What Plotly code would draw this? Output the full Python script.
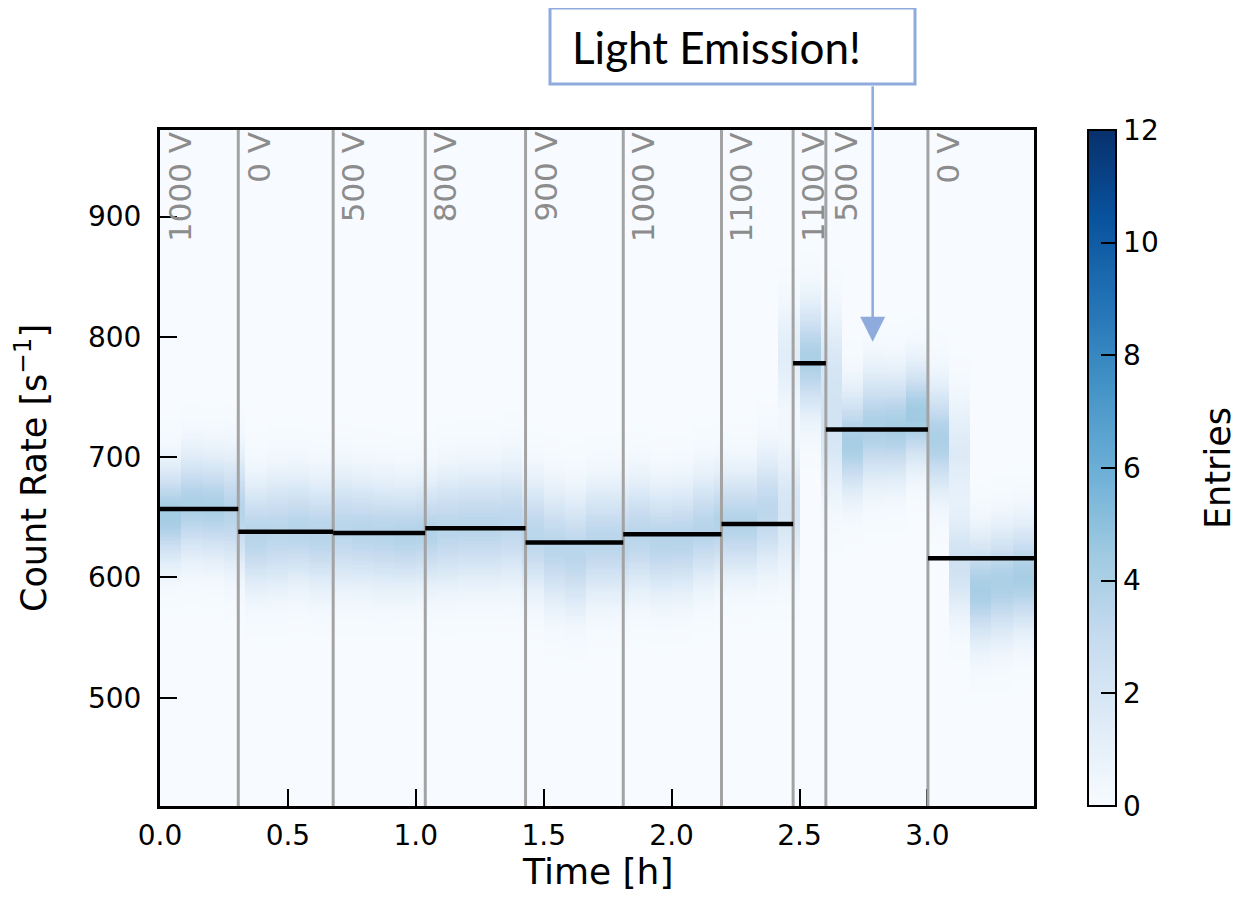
import numpy as np
import plotly.graph_objects as go

# ---------------- data ----------------
# 2D histogram: time bins of 5 min (1/12 h), count-rate bins of 2 s^-1
n_time_bins = 41
time_bin_h = 1.0 / 12.0
rate_min, rate_max, rate_bin = 410, 972, 2

# per time-bin main component: centre, width, entries
col_center = [652, 660, 658, 655, 635, 638, 640, 636, 640, 638, 636, 635, 637,
              640, 642, 642, 645, 635, 625, 620, 630, 630, 635, 630, 632, 640,
              645, 645, 655, 655, 782, 725, 712, 725, 725, 735, 715, 705, 590,
              595, 600]
col_sigma = [26, 28, 28, 30, 29, 30, 29, 29, 30, 29, 29, 28, 28,
             30, 30, 30, 31, 30, 31, 31, 30, 30, 30, 29, 29, 29,
             28, 28, 31, 33, 30, 38, 28, 30, 29, 27, 29, 30, 29,
             30, 29]
col_entries = [140, 140, 140, 135, 130, 130, 130, 130, 130, 130, 130, 130, 130,
               130, 130, 130, 130, 130, 135, 135, 130, 130, 130, 130, 130, 130,
               130, 130, 130, 130, 150, 140, 145, 150, 150, 150, 145, 140, 150,
               150, 150]
# second component for bins that straddle a voltage change
col2_center = [0] * 29 + [785, 0, 785] + [0] * 5 + [610] + [0] * 3
col2_frac = [0] * 29 + [0.35, 0, 0.3] + [0] * 5 + [0.6] + [0] * 3
col2_sigma = 28

# voltage segments
seg_start = [0.0, 0.306, 0.677, 1.037, 1.429, 1.811, 2.195, 2.475, 2.603, 3.002]
seg_mean = [657, 638, 637, 641, 629, 636, 644.5, 778, 723, 616]
seg_label = ["1000 V", "0 V", "500 V", "800 V", "900 V", "1000 V", "1100 V",
             "1100 V", "500 V", "0 V"]

x_ticks = [0.0, 0.5, 1.0, 1.5, 2.0, 2.5, 3.0]
y_ticks = [500, 600, 700, 800, 900]
cbar_ticks = [0, 2, 4, 6, 8, 10, 12]

arrow_target = (2.786, 796)  # (time h, count rate) where the arrow points
callout_text = "Light Emission!"

# ---------------- build histogram grid ----------------
x_end = n_time_bins * time_bin_h
x_centers = (np.arange(n_time_bins) + 0.5) * time_bin_h
y_edges = np.arange(rate_min, rate_max + rate_bin, rate_bin)
y_centers = y_edges[:-1] + rate_bin / 2.0

z = np.zeros((len(y_centers), n_time_bins))
norm = rate_bin / np.sqrt(2 * np.pi)
for k in range(n_time_bins):
    f2 = col2_frac[k]
    n1 = col_entries[k] * (1 - f2)
    z[:, k] += n1 * norm / col_sigma[k] * np.exp(-0.5 * ((y_centers - col_center[k]) / col_sigma[k]) ** 2)
    if f2 > 0:
        n2 = col_entries[k] * f2
        z[:, k] += n2 * norm / col2_sigma * np.exp(-0.5 * ((y_centers - col2_center[k]) / col2_sigma) ** 2)

blues = ["#f7fbff", "#deebf7", "#c6dbef", "#9ecae1", "#6baed6", "#4292c6",
         "#2171b5", "#08519c", "#08306b"]
colorscale = [[i / (len(blues) - 1), c] for i, c in enumerate(blues)]

# ---------------- figure ----------------
# page body has an 8px margin; figure is sized so the plot area lands at
# screen x 160..1034, y 130..806
OFF = 8
W, H = 1237, 903
L, T = 160 - OFF, 130 - OFF
plot_w, plot_h = 874, 676
R = W - L - plot_w
B = H - T - plot_h


def px_x(sx):  # screen x -> paper x
    return (sx - OFF - L) / plot_w


def px_y(sy):  # screen y -> paper y
    return (T + plot_h - (sy - OFF)) / plot_h


FONT = "DejaVu Sans"

fig = go.Figure()
fig.add_trace(go.Heatmap(
    x=x_centers, y=y_centers, z=z,
    zmin=0, zmax=12, colorscale=colorscale,
    hoverinfo="skip",
    colorbar=dict(
        x=px_x(1088), xanchor="left", xpad=0,
        y=0.5, yanchor="middle", len=1.0, lenmode="fraction", ypad=0,
        thickness=28, outlinewidth=2, outlinecolor="black",
        tickvals=cbar_ticks, ticks="inside", ticklen=16, tickwidth=2,
        tickcolor="black",
        tickfont=dict(family=FONT, size=28, color="black"),
    ),
))

shapes = []
for xs in seg_start[1:]:
    shapes.append(dict(type="line", xref="x", yref="paper", x0=xs, x1=xs,
                       y0=0, y1=1, line=dict(color="#a3a3a3", width=3)))
seg_end = seg_start[1:] + [x_end]
for xs, xe, m in zip(seg_start, seg_end, seg_mean):
    shapes.append(dict(type="line", xref="x", yref="y", x0=xs, x1=xe,
                       y0=m, y1=m, line=dict(color="black", width=4.5)))

# callout box
shapes.append(dict(type="rect", xref="paper", yref="paper",
                   x0=px_x(550), x1=px_x(915), y0=px_y(84), y1=px_y(8),
                   line=dict(color="#8faadc", width=3), fillcolor="white",
                   layer="above"))

annotations = []
for xs, lab in zip(seg_start, seg_label):
    annotations.append(dict(
        x=xs, y=1, xref="x", yref="paper", text=lab, showarrow=False,
        textangle=-90, xanchor="left", yanchor="top", xshift=0, yshift=0,
        font=dict(family=FONT, size=31, color="#8c8c8c"),
    ))

annotations.append(dict(
    x=px_x(570), y=px_y(47), xref="paper", yref="paper",
    text=callout_text, showarrow=False, xanchor="left", yanchor="middle",
    font=dict(family="Lato", size=44, color="black"),
))
annotations.append(dict(
    x=arrow_target[0], y=arrow_target[1], xref="x", yref="y",
    ax=0, ay=-(341 - 84), axref="pixel", ayref="pixel",
    text="", showarrow=True, arrowhead=2, arrowsize=2.0, arrowwidth=2.5,
    arrowcolor="#8faadc", standoff=0, startstandoff=0,
))
# colour-bar label
annotations.append(dict(
    x=px_x(1218), y=0.5, xref="paper", yref="paper", text="Entries",
    showarrow=False, textangle=-90, xanchor="center", yanchor="middle",
    font=dict(family=FONT, size=35, color="black"),
))
# x-axis title
annotations.append(dict(
    x=0.5, y=px_y(871), xref="paper", yref="paper", text="Time [h]",
    showarrow=False, xanchor="center", yanchor="middle",
    font=dict(family=FONT, size=36, color="black"),
))

fig.update_layout(
    width=W, height=H,
    margin=dict(l=L, r=R, t=T, b=B, pad=0),
    paper_bgcolor="white", plot_bgcolor="#f7fbff",
    font=dict(family=FONT, color="black"),
    shapes=shapes, annotations=annotations,
    showlegend=False,
)
fig.update_xaxes(
    range=[0, x_end], tickvals=x_ticks, ticktext=[f"{v:.1f}" for v in x_ticks],
    ticks="inside", ticklen=17, tickwidth=2, tickcolor="black",
    showline=True, linewidth=3, linecolor="black", mirror=True,
    showgrid=False, zeroline=False, ticklabelstandoff=2,
    tickfont=dict(family=FONT, size=28, color="black"),
)
fig.update_yaxes(
    range=[rate_min, rate_max], tickvals=y_ticks,
    ticks="inside", ticklen=17, tickwidth=2, tickcolor="black",
    showline=True, linewidth=3, linecolor="black", mirror=True,
    showgrid=False, zeroline=False, ticklabelstandoff=10,
    tickfont=dict(family=FONT, size=28, color="black"),
    title=dict(text="Count Rate [s<sup>−1</sup>]",
               font=dict(family=FONT, size=35, color="black"), standoff=36),
)

fig.write_html("out.html")
